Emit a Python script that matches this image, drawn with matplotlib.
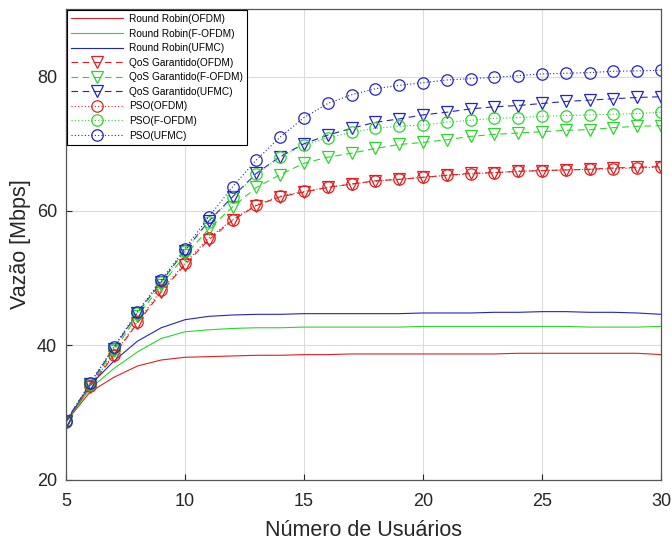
import matplotlib
matplotlib.use("Agg")
import matplotlib.pyplot as plt
import numpy as np

plt.rcParams['font.family'] = ['Liberation Sans', 'DejaVu Sans']

# numero de usuarios
usuarios = np.arange(5, 31)

# Round Robin
rr_ofdm = [28.6, 33.0, 35.2, 36.9, 37.8, 38.2, 38.3, 38.4, 38.5, 38.5, 38.6, 38.6, 38.7, 38.7,
           38.7, 38.7, 38.7, 38.7, 38.7, 38.8, 38.8, 38.8, 38.8, 38.8, 38.8, 38.6]
rr_fofdm = [28.6, 33.5, 36.5, 39.0, 41.0, 42.0, 42.3, 42.5, 42.6, 42.6, 42.7, 42.7, 42.7, 42.7,
            42.7, 42.8, 42.8, 42.8, 42.8, 42.8, 42.8, 42.8, 42.7, 42.7, 42.7, 42.8]
rr_ufmc = [28.6, 34.0, 37.6, 40.6, 42.6, 43.8, 44.3, 44.5, 44.6, 44.6, 44.7, 44.7, 44.7, 44.7,
           44.7, 44.8, 44.8, 44.8, 44.9, 44.9, 45.0, 45.0, 44.9, 44.9, 44.8, 44.6]

# QoS Garantido
qos_ofdm = [28.6, 33.8, 38.4, 43.3, 47.9, 52.0, 55.7, 58.6, 60.8, 62.1, 62.8, 63.5, 64.0, 64.5,
            64.7, 65.0, 65.3, 65.6, 65.7, 65.9, 66.0, 66.1, 66.2, 66.4, 66.5, 66.6]
qos_fofdm = [28.6, 34.0, 39.1, 44.3, 48.9, 53.4, 57.3, 60.6, 63.5, 65.4, 67.1, 68.0, 68.6, 69.3,
             69.9, 70.2, 70.6, 71.1, 71.4, 71.6, 71.8, 72.0, 72.1, 72.4, 72.6, 72.7]
qos_ufmc = [28.7, 34.2, 39.5, 44.8, 49.4, 54.1, 58.5, 62.1, 65.6, 68.1, 70.0, 71.3, 72.3, 73.2,
            73.7, 74.3, 74.7, 75.2, 75.5, 75.7, 76.0, 76.3, 76.5, 76.7, 76.9, 77.0]

# PSO
pso_ofdm = [28.6, 34.0, 38.6, 43.5, 48.2, 52.2, 56.0, 58.7, 60.9, 62.2, 62.9, 63.5, 64.0, 64.4,
            64.7, 65.0, 65.3, 65.5, 65.7, 65.9, 66.0, 66.1, 66.2, 66.3, 66.4, 66.5]
pso_fofdm = [28.7, 34.2, 39.5, 44.8, 49.4, 54.0, 58.4, 62.0, 65.5, 68.0, 69.8, 70.9, 71.7, 72.3,
             72.6, 72.8, 73.2, 73.5, 73.8, 73.9, 74.1, 74.2, 74.3, 74.4, 74.5, 74.7]
pso_ufmc = [28.7, 34.3, 39.7, 45.0, 49.7, 54.4, 59.1, 63.6, 67.6, 71.0, 73.9, 76.0, 77.3, 78.2,
            78.7, 79.1, 79.5, 79.7, 79.9, 80.15, 80.4, 80.5, 80.6, 80.8, 80.85, 80.95]

vermelho = '#e02020'
verde = '#2bd62b'
azul = '#2424c0'

fig = plt.figure(figsize=(6.71, 5.42), dpi=100)
ax = fig.add_axes([0.0984, 0.1153, 0.8866, 0.8672])

lw = 0.8
ax.plot(usuarios, rr_ofdm, color=vermelho, lw=lw, label='Round Robin(OFDM)')
ax.plot(usuarios, rr_fofdm, color=verde, lw=lw, label='Round Robin(F-OFDM)')
ax.plot(usuarios, rr_ufmc, color=azul, lw=lw, label='Round Robin(UFMC)')

tri = dict(marker='v', ms=8.5, mfc='none', mew=0.9, lw=lw, dashes=(6, 4))
ax.plot(usuarios, qos_ofdm, color=vermelho, mec=vermelho, label='QoS Garantido(OFDM)', **tri)
ax.plot(usuarios, qos_fofdm, color=verde, mec=verde, label='QoS Garantido(F-OFDM)', **tri)
ax.plot(usuarios, qos_ufmc, color=azul, mec=azul, label='QoS Garantido(UFMC)', **tri)

circ = dict(marker='o', ms=8.2, mfc='none', mew=0.9, lw=lw, dashes=(1, 2))
ax.plot(usuarios, pso_ofdm, color=vermelho, mec=vermelho, label='PSO(OFDM)', **circ)
ax.plot(usuarios, pso_fofdm, color=verde, mec=verde, label='PSO(F-OFDM)', **circ)
ax.plot(usuarios, pso_ufmc, color=azul, mec=azul, label='PSO(UFMC)', **circ)

ax.set_xlim(5, 30)
ax.set_ylim(20, 90)
ax.set_xticks(np.arange(5, 31, 5))
ax.set_yticks([20, 40, 60, 80])
ax.grid(True, color='#dcdcdc', lw=0.8)
ax.set_axisbelow(True)
ax.tick_params(direction='in', length=4, labelsize=13, colors='#262626')
ax.tick_params(axis='x', pad=10)
ax.tick_params(axis='y', pad=6.5)
for s in ax.spines.values():
    s.set_color('#555555')
    s.set_linewidth(0.9)

ax.set_xlabel('Número de Usuários', fontsize=15.5, color='#262626', labelpad=7)
ax.set_ylabel('Vazão [Mbps]', fontsize=15.5, color='#262626', labelpad=4)

leg = ax.legend(loc='upper left', fontsize=7.3, fancybox=False, framealpha=1,
                edgecolor='black', borderaxespad=0.05, labelspacing=0.45,
                handlelength=5.2, handletextpad=0.6, borderpad=0.4)
leg.get_frame().set_linewidth(0.8)

fig.savefig('out.png', dpi=100)
